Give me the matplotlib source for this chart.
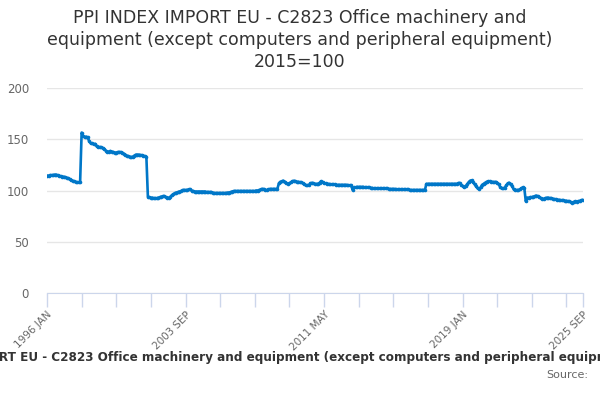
import numpy as np
import matplotlib.pyplot as plt

# monthly index values, 1996 JAN .. 2025 SEP (2015=100)
y1996 = [114.5, 114.5, 115, 115, 115, 115.5, 115.5, 115, 114.5, 114, 113.5, 113.5]
y1997 = [113, 112.5, 112, 111, 110, 109.5, 109, 108.5, 108, 108, 108.5, 156.5]
y1998 = [153, 152, 152.5, 152, 148, 146, 146, 145, 145.5, 143, 142, 142.5]
y1999 = [142, 141.5, 140.5, 139, 138, 138, 138.5, 138, 137.5, 137, 137, 137.5]
y2000 = [137.5, 137.5, 137, 136, 135, 134, 133.5, 133, 132.5, 133, 134, 135]
y2001 = [135, 135, 134.5, 134.5, 134, 133.5, 133, 94, 93.5, 93, 93, 92.5]
y2002 = [92.5, 92.5, 93, 93.5, 94, 94.5, 94.5, 93.5, 93, 93, 94, 95.5]
y2003 = [96.5, 97.5, 98, 98.5, 99, 99.5, 100.5, 100.5, 100.5, 100.5, 101, 101]
y2004 = [100, 99.5, 99, 99, 99, 99, 99, 99, 99, 99, 98.5, 98.5]
y2005 = [98.5, 98.5, 98, 97.5, 97.5, 97.5, 97.5, 97.5, 97.5, 97.5, 97.5, 97.5]
y2006 = [98, 98, 98.5, 99, 99.5, 99.5, 99.5, 99.5, 99.5, 99.5, 99.5, 99.5]
y2007 = [99.5, 99.5, 99.5, 99.5, 99.5, 99.5, 99.5, 100, 100, 100.5, 101, 101.5]
y2008 = [101.5, 100.5, 100.5, 101, 101.5, 101.5, 101.5, 101.5, 101.5, 101.5, 107, 108.5]
y2009 = [109, 109.5, 108.5, 107, 106.5, 107, 108, 109, 109.5, 109, 108.5, 108.5]
y2010 = [108, 108, 107, 106, 105, 105, 105.5, 107, 107.5, 107, 106.5, 106.5]
y2011 = [106.5, 107.5, 109, 108, 107, 107, 106.5, 106.5, 106, 106, 106, 106]
y2012 = [105.5, 105.5, 105.5, 105.5, 105.5, 105.5, 105.5, 105.5, 105, 105, 105, 100.5]
y2013 = [103, 103, 103.5, 103.5, 103.5, 103.5, 103.5, 103, 103, 103, 103, 102.5]
y2014 = [102.5, 102, 102, 102, 102, 102, 102, 102, 102, 102, 102, 101.5]
y2015 = [101.5, 101.5, 101.5, 101.5, 101, 101, 101, 101, 101, 101, 101, 101]
y2016 = [101, 100.5, 100.5, 100.5, 100.5, 100.5, 100.5, 100.5, 100.5, 100.5, 100.5, 100.5]
y2017 = [106.5, 106.5, 106.5, 106.5, 106.5, 106.5, 106.5, 106.5, 106.5, 106.5, 106.5, 106.5]
y2018 = [106.5, 106.5, 106.5, 106.5, 106.5, 106.5, 106.5, 106.5, 106.5, 107, 107.5, 105.5]
y2019 = [104.5, 103, 104, 106, 108, 109.5, 110, 108, 106, 104, 102, 101.5]
y2020 = [103, 105.5, 106.5, 107.5, 108.5, 109, 109, 108.5, 108.5, 108, 108.5, 107.5]
y2021 = [106, 103.5, 102, 102, 102.5, 105, 107, 107.5, 106, 104, 101, 100.5]
y2022 = [100.5, 100.5, 101, 102, 103, 102.5, 89.5, 93, 93, 93.5, 93.5, 94]
y2023 = [94.5, 95, 94.5, 93.5, 92.5, 92, 92, 92.5, 93, 93, 92.5, 92.5]
y2024 = [92, 91.5, 91.5, 91, 91, 90.5, 90.5, 90.5, 90, 90, 89.5, 89.5]
y2025 = [88.5, 88, 89, 89.5, 89, 89.5, 90, 90.5, 91]

values = (y1996 + y1997 + y1998 + y1999 + y2000 + y2001 + y2002 + y2003
          + y2004 + y2005 + y2006 + y2007 + y2008 + y2009 + y2010 + y2011
          + y2012 + y2013 + y2014 + y2015 + y2016 + y2017 + y2018 + y2019
          + y2020 + y2021 + y2022 + y2023 + y2024 + y2025)

months = ['JAN', 'FEB', 'MAR', 'APR', 'MAY', 'JUN', 'JUL', 'AUG', 'SEP', 'OCT', 'NOV', 'DEC']
labels = ['%d %s' % (1996 + i // 12, months[i % 12]) for i in range(len(values))]
x = np.arange(len(values))

title = ('PPI INDEX IMPORT EU - C2823 Office machinery and\n'
         'equipment (except computers and peripheral equipment)\n2015=100')
caption = ('PPI INDEX IMPORT EU - C2823 Office machinery and equipment '
           '(except computers and peripheral equipment) 2015=100')

fig = plt.figure(figsize=(6, 4), dpi=100)
ax = fig.add_axes([47 / 600, 1 - 293 / 400, 536 / 600, 205 / 400])

ax.plot(x, values, color='#0077c8', lw=1.9, marker='o', ms=2.6, mew=0)

ax.set_xlim(0, len(values) - 1)
ax.set_ylim(0, 200)
ax.set_yticks([0, 50, 100, 150, 200])
ax.grid(axis='y', color='#e6e6e6', lw=1)
ax.set_axisbelow(True)

minor = list(range(0, len(values), 23)) + [len(values) - 1]
ax.set_xticks(minor, minor=True)
major = [0, 92, 184, 276, len(values) - 1]
ax.set_xticks(major)
ax.set_xticklabels([labels[i] for i in major], rotation=45, ha='right',
                   rotation_mode='anchor')

for s in ['left', 'right', 'top']:
    ax.spines[s].set_visible(False)
ax.spines['bottom'].set_color('#ccd6eb')
ax.tick_params(axis='y', length=0, pad=13, labelsize=8.5, labelcolor='#666666')
ax.tick_params(axis='x', which='both', length=10, color='#ccd6eb', width=1,
               labelsize=7.5, labelcolor='#666666', pad=2)

fig.text(0.5, 1 - 40 / 400, title, ha='center', va='center', fontsize=12.5,
         color='#333333', linespacing=1.3)
fig.text(0.5, 1 - 358 / 400, caption, ha='center', va='center',
         fontsize=8.65, fontweight='bold', color='#333333')
fig.text(588 / 600, 1 - 375 / 400, 'Source:', ha='right', va='center',
         fontsize=8, color='#666666')

fig.savefig('out.png', dpi=100)
